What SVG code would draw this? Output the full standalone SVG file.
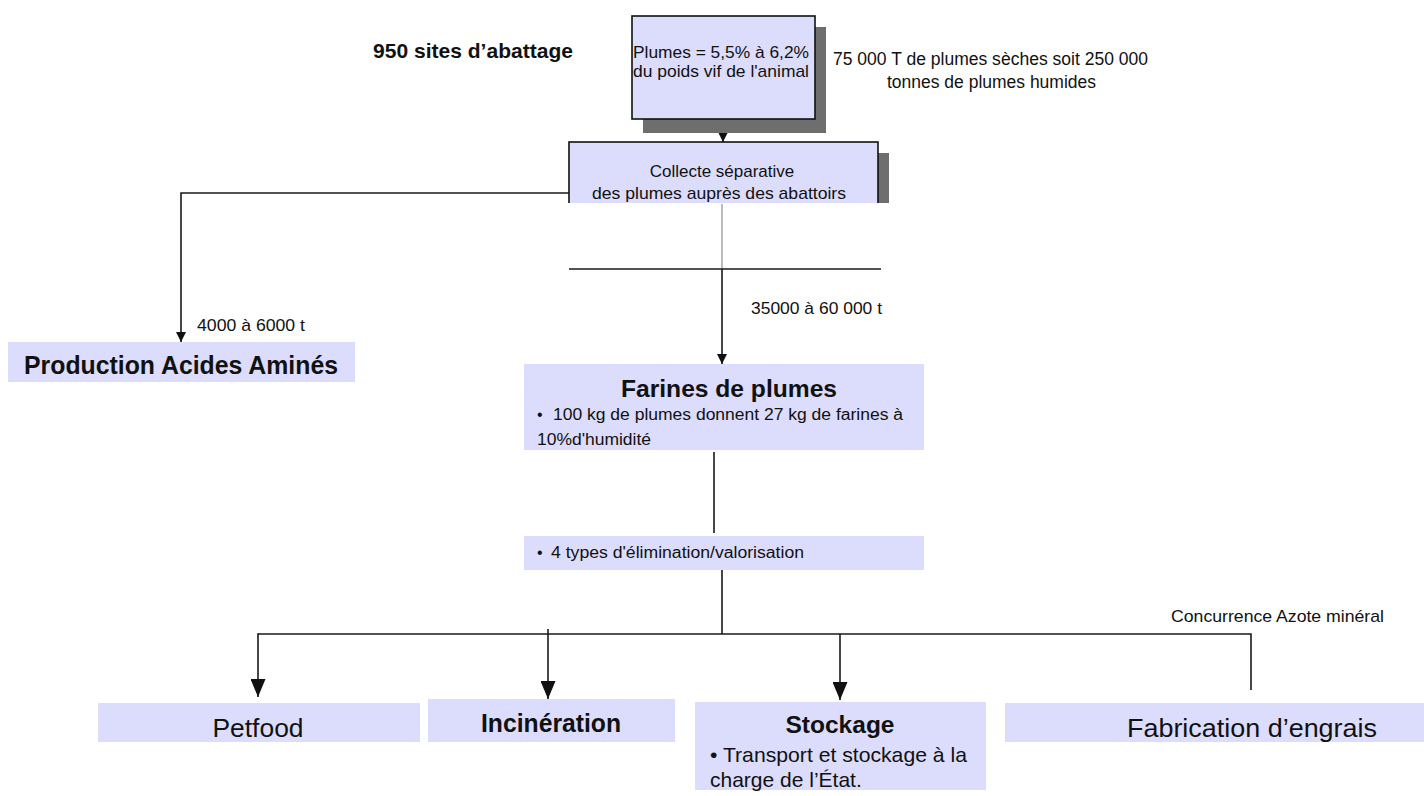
<svg xmlns="http://www.w3.org/2000/svg" width="1424" height="796" viewBox="0 0 1424 796">
  <style>
    text { font-family: "Liberation Sans", Arial, sans-serif; fill: #111; }
    .box { fill: #dcdcfc; }
    .framed { fill: #dcdcfc; stroke: #111; stroke-width: 1.6; }
    .shadow { fill: #6e6e6e; }
    .wire { fill: none; stroke: #1a1a1a; stroke-width: 1.6; }
    .thin { fill: none; stroke: #777; stroke-width: 1; }
    .small { font-size: 17px; }
    .big { font-size: 26px; }
    .mid { font-size: 16px; }
  </style>
  <defs>
    <marker id="tip-s" viewBox="0 0 10 10" refX="10" refY="5" markerWidth="10" markerHeight="10" markerUnits="userSpaceOnUse" orient="auto">
      <path d="M0,0 L10,5 L0,10 Z" fill="#111"/>
    </marker>
    <marker id="tip-l" viewBox="0 0 18 15" refX="18" refY="7.5" markerWidth="18" markerHeight="15" markerUnits="userSpaceOnUse" orient="auto">
      <path d="M0,0 L18,7.5 L0,15 Z" fill="#111"/>
    </marker>
    <clipPath id="collect-clip">
      <rect x="500" y="130" width="420" height="73"/>
    </clipPath>
  </defs>

  <rect x="0" y="0" width="1424" height="796" fill="#ffffff"/>

  <!-- free labels -->
  <text x="373" y="58" font-size="21" font-weight="bold" textLength="200" lengthAdjust="spacingAndGlyphs">950 sites d’abattage</text>
  <text x="833" y="65" font-size="18" textLength="315" lengthAdjust="spacingAndGlyphs">75 000 T de plumes sèches soit 250 000</text>
  <text x="887" y="88" font-size="18" textLength="209" lengthAdjust="spacingAndGlyphs">tonnes de plumes humides</text>
  <text x="197" y="331" class="small" textLength="108" lengthAdjust="spacingAndGlyphs">4000 à 6000 t</text>
  <text x="751" y="314" class="small" textLength="131" lengthAdjust="spacingAndGlyphs">35000 à 60 000 t</text>
  <text x="1171" y="622" class="small" textLength="213" lengthAdjust="spacingAndGlyphs">Concurrence Azote minéral</text>

  <!-- connectors -->
  <g id="connectors">
    <line class="wire" x1="723" y1="119" x2="723" y2="142" marker-end="url(#tip-s)"/>
    <path class="wire" d="M569,193 H181 V342" marker-end="url(#tip-s)"/>
    <line class="thin" x1="722" y1="204" x2="722" y2="269"/>
    <line class="wire" x1="722" y1="269" x2="722" y2="364" marker-end="url(#tip-s)"/>
    <line class="wire" x1="569" y1="269" x2="881" y2="269"/>
    <line class="wire" x1="714" y1="452" x2="714" y2="533"/>
    <line class="wire" x1="722" y1="570" x2="722" y2="634"/>
    <path class="wire" d="M258,634 H1251 V690"/>
    <line class="wire" x1="258" y1="633.2" x2="258" y2="697" marker-end="url(#tip-l)"/>
    <line class="wire" x1="548" y1="629" x2="548" y2="699" marker-end="url(#tip-l)"/>
    <line class="wire" x1="840" y1="634" x2="840" y2="700" marker-end="url(#tip-l)"/>
  </g>

  <!-- top source box -->
  <g id="plumes">
    <rect class="shadow" x="643" y="27" width="183" height="106"/>
    <rect class="framed" x="632" y="16" width="183" height="103"/>
    <text x="633" y="58" font-size="17" textLength="176" lengthAdjust="spacingAndGlyphs">Plumes = 5,5% à 6,2%</text>
    <text x="633" y="77" font-size="17" textLength="176" lengthAdjust="spacingAndGlyphs">du poids vif de l'animal</text>
  </g>

  <!-- collection box, lower part cut off -->
  <g id="collecte" clip-path="url(#collect-clip)">
    <rect class="shadow" x="580" y="153" width="309" height="60"/>
    <rect class="framed" x="569" y="142" width="309" height="70"/>
    <text x="722" y="177" class="small" text-anchor="middle">Collecte séparative</text>
    <text x="719" y="199" class="small" text-anchor="middle" textLength="254" lengthAdjust="spacingAndGlyphs">des plumes auprès des abattoirs</text>
  </g>

  <g id="acides">
    <rect class="box" x="8" y="342" width="347" height="40"/>
    <text x="24" y="374" font-size="25" font-weight="bold" textLength="314" lengthAdjust="spacingAndGlyphs">Production Acides Aminés</text>
  </g>

  <g id="farines">
    <rect class="box" x="524" y="364" width="400" height="86"/>
    <text x="621" y="397" font-size="24" font-weight="bold" textLength="216" lengthAdjust="spacingAndGlyphs">Farines de plumes</text>
    <text x="537" y="420" class="mid">•</text>
    <text x="553" y="420" class="mid" textLength="350" lengthAdjust="spacingAndGlyphs">100 kg de plumes donnent 27 kg de farines à</text>
    <text x="537" y="445" class="mid" textLength="114" lengthAdjust="spacingAndGlyphs">10%d'humidité</text>
  </g>

  <g id="types">
    <rect class="box" x="524" y="536" width="400" height="34"/>
    <text x="537" y="558" class="mid">•</text>
    <text x="551" y="558" class="mid" textLength="253" lengthAdjust="spacingAndGlyphs">4 types d'élimination/valorisation</text>
  </g>

  <g id="petfood">
    <rect class="box" x="98" y="703" width="322" height="39"/>
    <text x="258" y="737" class="big" text-anchor="middle" textLength="91" lengthAdjust="spacingAndGlyphs">Petfood</text>
  </g>

  <g id="incineration">
    <rect class="box" x="428" y="699" width="247" height="43"/>
    <text x="481" y="732" font-size="25" font-weight="bold" textLength="140" lengthAdjust="spacingAndGlyphs">Incinération</text>
  </g>

  <g id="stockage">
    <rect class="box" x="695" y="702" width="291" height="88"/>
    <text x="840" y="733" font-size="24.5" font-weight="bold" text-anchor="middle" textLength="109" lengthAdjust="spacingAndGlyphs">Stockage</text>
    <text x="710" y="762" font-size="21" textLength="257" lengthAdjust="spacingAndGlyphs">• Transport et stockage à la</text>
    <text x="710" y="787" font-size="21">charge de l’État.</text>
  </g>

  <g id="engrais">
    <rect class="box" x="1005" y="703" width="419" height="39"/>
    <text x="1127" y="737" class="big" textLength="250" lengthAdjust="spacingAndGlyphs">Fabrication d’engrais</text>
  </g>
</svg>
